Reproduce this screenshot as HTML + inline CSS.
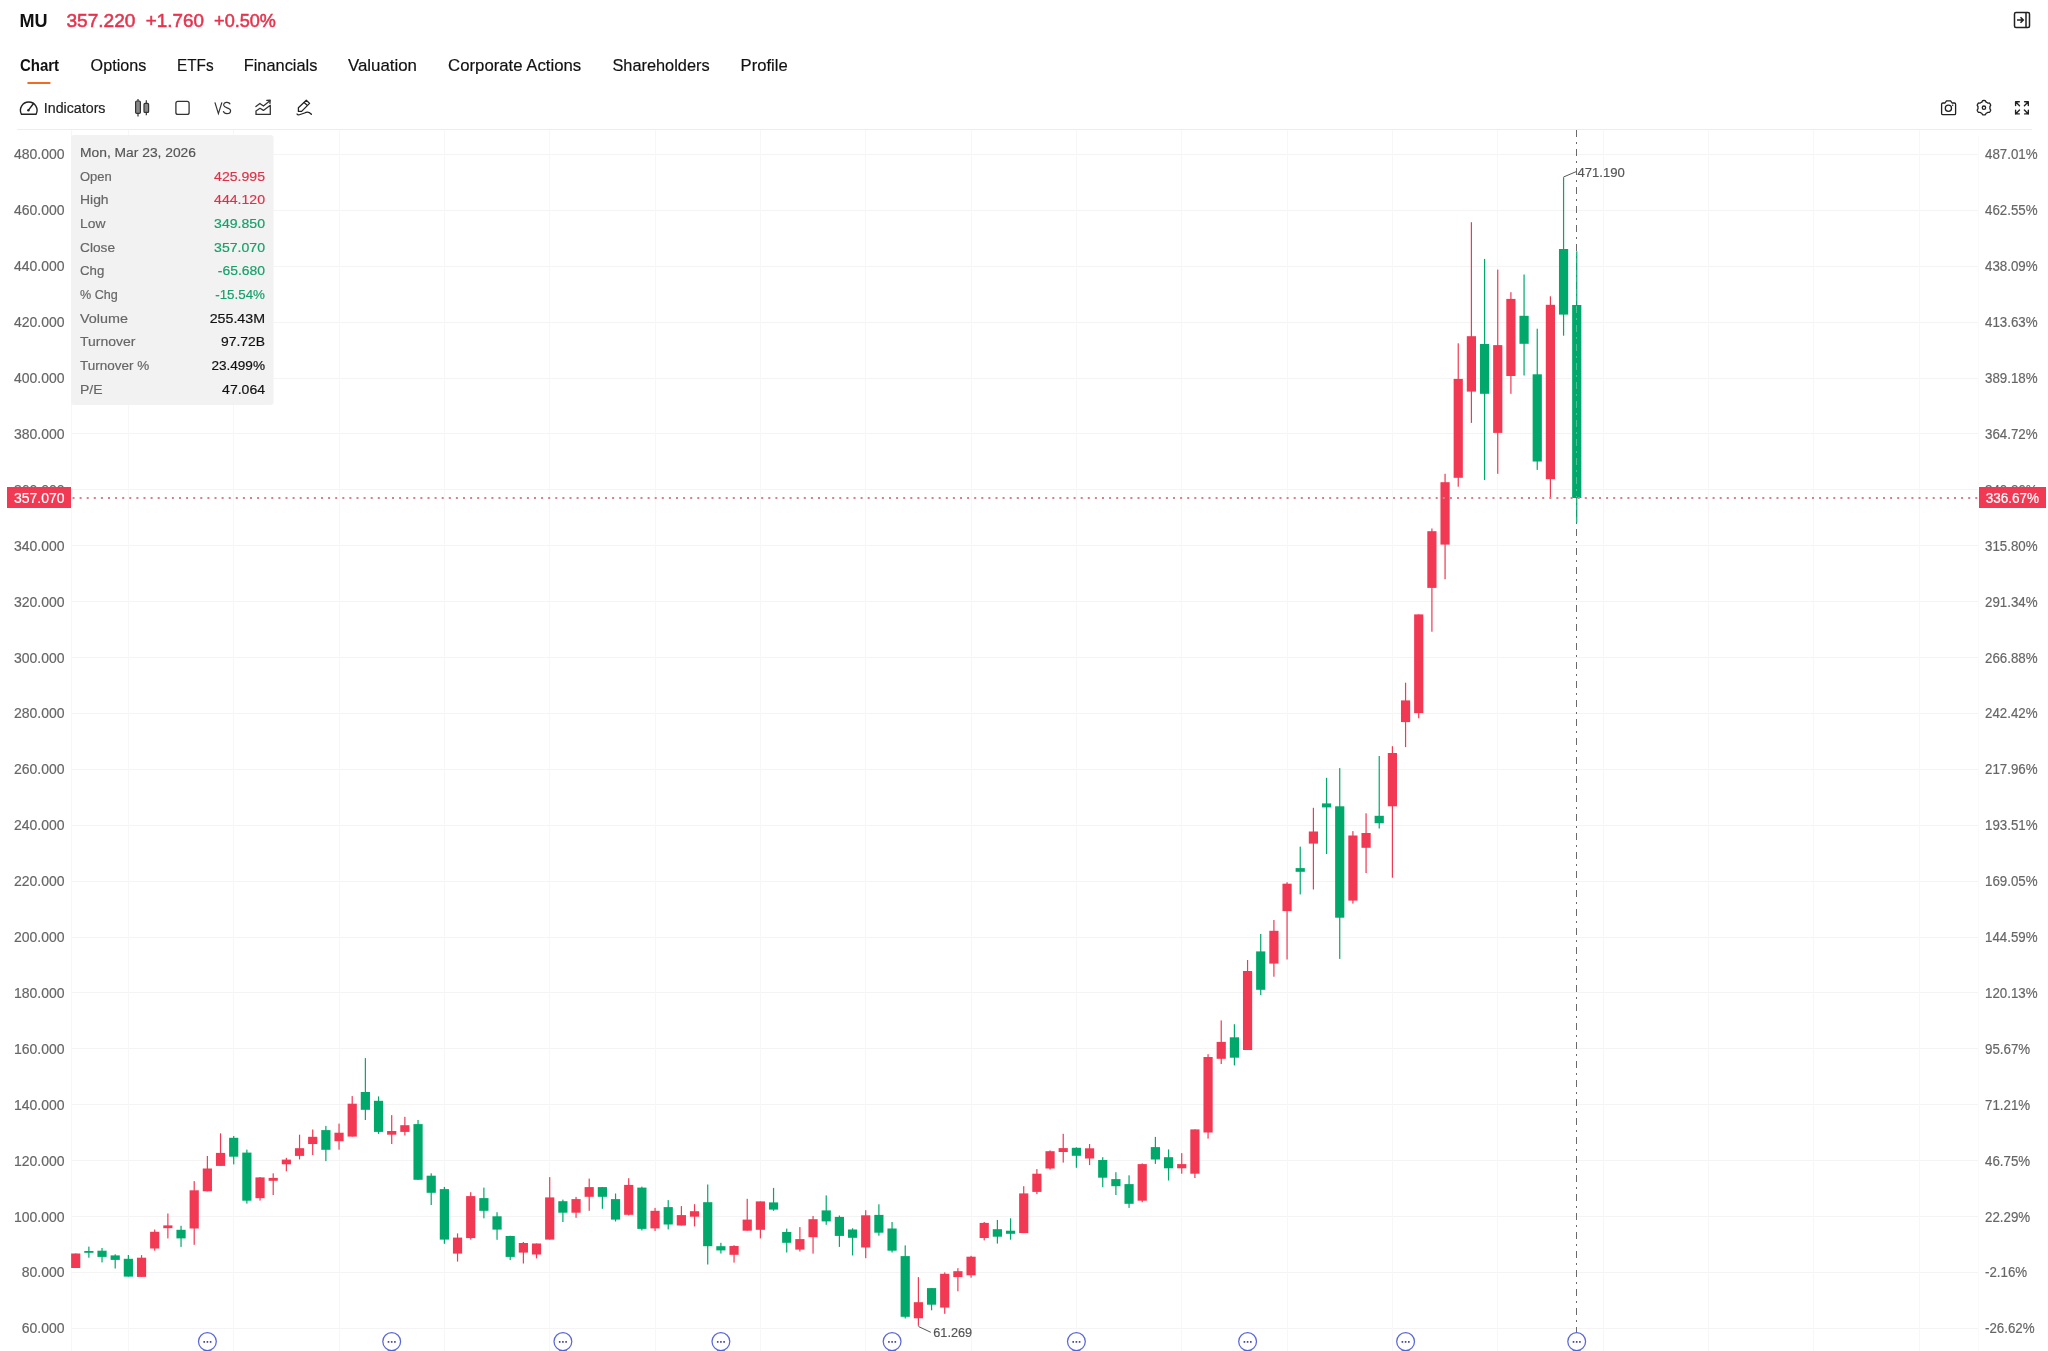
<!DOCTYPE html>
<html><head><meta charset="utf-8"><title>MU Chart</title>
<style>
html,body{margin:0;padding:0;background:#fff;}
body{width:2048px;height:1351px;overflow:hidden;position:relative;font-family:"Liberation Sans",sans-serif;}
svg{position:absolute;left:0;top:0;will-change:transform;}
text{font-family:"Liberation Sans",sans-serif;}
</style></head>
<body>
<svg width="2048" height="1351" viewBox="0 0 2048 1351">
<text x="19.5" y="27" font-size="19" fill="#111" font-weight="bold" textLength="28.1" lengthAdjust="spacingAndGlyphs" >MU</text>
<text x="66.4" y="27" font-size="19" fill="#e5344e" textLength="69.1" lengthAdjust="spacingAndGlyphs" stroke="#e5344e" stroke-width="0.55">357.220</text>
<text x="145.8" y="27" font-size="19" fill="#e5344e" textLength="58.1" lengthAdjust="spacingAndGlyphs" stroke="#e5344e" stroke-width="0.55">+1.760</text>
<text x="214.1" y="27" font-size="19" fill="#e5344e" textLength="61.8" lengthAdjust="spacingAndGlyphs" stroke="#e5344e" stroke-width="0.55">+0.50%</text>
<g fill="none" stroke="#222" stroke-width="1.5"><rect x="2014.5" y="12.5" width="15" height="15" rx="1.5"/><line x1="2026" y1="12.5" x2="2026" y2="27.5"/><path d="M2017 20h6.5M2020.5 17.2l2.8 2.8-2.8 2.8"/></g>
<text x="19.9" y="70.9" font-size="17" fill="#111" font-weight="bold" textLength="39.2" lengthAdjust="spacingAndGlyphs" >Chart</text>
<text x="90.6" y="70.9" font-size="17" fill="#111" stroke="#111" stroke-width="0.18" textLength="55.7" lengthAdjust="spacingAndGlyphs" >Options</text>
<text x="177" y="70.9" font-size="17" fill="#111" stroke="#111" stroke-width="0.18" textLength="36.6" lengthAdjust="spacingAndGlyphs" >ETFs</text>
<text x="243.7" y="70.9" font-size="17" fill="#111" stroke="#111" stroke-width="0.18" textLength="73.7" lengthAdjust="spacingAndGlyphs" >Financials</text>
<text x="347.9" y="70.9" font-size="17" fill="#111" stroke="#111" stroke-width="0.18" textLength="69.1" lengthAdjust="spacingAndGlyphs" >Valuation</text>
<text x="448.1" y="70.9" font-size="17" fill="#111" stroke="#111" stroke-width="0.18" textLength="133.1" lengthAdjust="spacingAndGlyphs" >Corporate Actions</text>
<text x="612.4" y="70.9" font-size="17" fill="#111" stroke="#111" stroke-width="0.18" textLength="97.2" lengthAdjust="spacingAndGlyphs" >Shareholders</text>
<text x="740.6" y="70.9" font-size="17" fill="#111" stroke="#111" stroke-width="0.18" textLength="47.1" lengthAdjust="spacingAndGlyphs" >Profile</text>
<rect x="27.2" y="82" width="23.5" height="2" rx="1" fill="#ee6d22"/>
<g fill="none" stroke="#222" stroke-width="1.4" stroke-linecap="round"><path d="M21.5 114.3 A8.3 8.3 0 1 1 36 114.3 Z"/><path d="M28.5 110.2 L33.5 103.5"/></g><circle cx="28.4" cy="110.3" r="1.2" fill="#222"/>
<text x="43.8" y="112.8" font-size="14" fill="#222" stroke="#222" stroke-width="0.18" textLength="61.7" lengthAdjust="spacingAndGlyphs" >Indicators</text>
<g stroke="#333" stroke-width="1.2"><line x1="138" y1="99" x2="138" y2="116.4"/><rect x="135.6" y="101" width="4.8" height="12.4" rx="1.2" fill="#888"/><line x1="146.3" y1="100.3" x2="146.3" y2="115.2"/><rect x="144" y="103.4" width="4.6" height="9" rx="1" fill="#888"/></g>
<rect x="175.9" y="101.4" width="13.2" height="13" rx="2" fill="none" stroke="#333" stroke-width="1.3"/>
<path d="M214.9 102.4 L218.4 113.6 L221.9 102.4" fill="none" stroke="#333" stroke-width="1.2"/>
<path d="M230.2 104.3 C229.5 102.6 227.9 102.2 226.6 102.3 C224.8 102.4 223.5 103.6 223.7 105.3 C224.1 108.4 230.6 107.3 230.6 110.8 C230.6 112.7 228.8 113.7 226.9 113.7 C225.2 113.7 223.8 112.9 223.3 111.2" fill="none" stroke="#333" stroke-width="1.2"/>
<g fill="none" stroke="#333" stroke-width="1.3" stroke-linejoin="round" stroke-linecap="round"><path d="M255.9 106.6 L259.9 103.5 L263.4 106 L269.6 101"/><path d="M266.8 100.4 L270.2 100.1 L269.9 103.4"/><path d="M256 111 L260 108.3 L263.4 110.4 L270.3 105.3 L270.3 114.4 L256 114.4 Z"/></g>
<g fill="none" stroke="#222" stroke-width="1.3" stroke-linejoin="round" stroke-linecap="round"><path d="M298.4 107.7 L306.3 100.3 L309.6 103.4 L301.6 111.4 L298.4 111.4 Z"/><path d="M304.1 102.6 L307.2 105.2"/><path d="M297 114 Q297.8 115.4 300.2 114.5 L304.6 113 Q308 110.6 311.4 114.3"/></g>
<g fill="none" stroke="#222" stroke-width="1.3" stroke-linejoin="round"><path d="M1941.6 104.3 Q1941.6 103 1943 103 L1945 103 L1946.5 100.8 L1950.6 100.8 L1952.1 103 L1954.4 103 Q1955.6 103 1955.6 104.3 L1955.6 113.4 Q1955.6 114.6 1954.4 114.6 L1943 114.6 Q1941.6 114.6 1941.6 113.4 Z"/><circle cx="1948.4" cy="108.2" r="3.1"/></g><circle cx="1952.7" cy="105.2" r="0.7" fill="#222"/>
<polygon points="1989.93,107.70 1989.92,108.09 1989.89,108.48 1989.92,108.89 1990.33,109.41 1990.68,109.99 1990.61,110.46 1990.42,110.89 1990.20,111.31 1989.95,111.71 1989.67,112.09 1989.29,112.39 1988.62,112.37 1987.97,112.28 1987.60,112.46 1987.27,112.67 1986.94,112.88 1986.60,113.06 1986.24,113.24 1985.91,113.47 1985.66,114.08 1985.34,114.67 1984.89,114.84 1984.42,114.90 1983.95,114.92 1983.48,114.90 1983.01,114.84 1982.56,114.67 1982.24,114.08 1981.99,113.47 1981.66,113.24 1981.30,113.06 1980.96,112.88 1980.63,112.67 1980.30,112.46 1979.93,112.28 1979.28,112.37 1978.61,112.39 1978.23,112.09 1977.95,111.71 1977.70,111.31 1977.48,110.89 1977.29,110.46 1977.22,109.99 1977.57,109.41 1977.98,108.89 1978.01,108.48 1977.98,108.09 1977.97,107.70 1977.98,107.31 1978.01,106.92 1977.98,106.51 1977.57,105.99 1977.22,105.41 1977.29,104.94 1977.48,104.51 1977.70,104.09 1977.95,103.69 1978.23,103.31 1978.61,103.01 1979.28,103.03 1979.93,103.12 1980.30,102.94 1980.63,102.73 1980.96,102.52 1981.30,102.34 1981.66,102.16 1981.99,101.93 1982.24,101.32 1982.56,100.73 1983.01,100.56 1983.48,100.50 1983.95,100.48 1984.42,100.50 1984.89,100.56 1985.34,100.73 1985.66,101.32 1985.91,101.93 1986.24,102.16 1986.60,102.34 1986.94,102.52 1987.27,102.73 1987.60,102.94 1987.97,103.12 1988.62,103.03 1989.29,103.01 1989.67,103.31 1989.95,103.69 1990.20,104.09 1990.42,104.51 1990.61,104.94 1990.68,105.41 1990.33,105.99 1989.92,106.51 1989.89,106.92 1989.92,107.31" fill="none" stroke="#222" stroke-width="1.3" stroke-linejoin="round"/>
<circle cx="1983.95" cy="107.7" r="1.7" fill="none" stroke="#222" stroke-width="1.3"/>
<g fill="none" stroke="#222" stroke-width="1.4" stroke-linecap="round" stroke-linejoin="round"><path d="M2015.6 105.5 L2015.6 101.8 L2019.3 101.8 M2015.6 101.8 L2019.5 105.7"/><path d="M2024.6 101.8 L2028.3 101.8 L2028.3 105.5 M2028.3 101.8 L2024.4 105.7"/><path d="M2015.6 110.2 L2015.6 113.9 L2019.3 113.9 M2015.6 113.9 L2019.5 110"/><path d="M2024.6 113.9 L2028.3 113.9 L2028.3 110.2 M2028.3 113.9 L2024.4 110"/></g>
<rect x="17" y="129" width="2015" height="1" fill="#ededed"/>
<rect x="71" y="1328" width="1908" height="1" fill="#f4f4f4"/>
<rect x="71" y="1272" width="1908" height="1" fill="#f4f4f4"/>
<rect x="71" y="1216" width="1908" height="1" fill="#f4f4f4"/>
<rect x="71" y="1160" width="1908" height="1" fill="#f4f4f4"/>
<rect x="71" y="1104" width="1908" height="1" fill="#f4f4f4"/>
<rect x="71" y="1048" width="1908" height="1" fill="#f4f4f4"/>
<rect x="71" y="992" width="1908" height="1" fill="#f4f4f4"/>
<rect x="71" y="937" width="1908" height="1" fill="#f4f4f4"/>
<rect x="71" y="881" width="1908" height="1" fill="#f4f4f4"/>
<rect x="71" y="825" width="1908" height="1" fill="#f4f4f4"/>
<rect x="71" y="769" width="1908" height="1" fill="#f4f4f4"/>
<rect x="71" y="713" width="1908" height="1" fill="#f4f4f4"/>
<rect x="71" y="657" width="1908" height="1" fill="#f4f4f4"/>
<rect x="71" y="601" width="1908" height="1" fill="#f4f4f4"/>
<rect x="71" y="545" width="1908" height="1" fill="#f4f4f4"/>
<rect x="71" y="489" width="1908" height="1" fill="#f4f4f4"/>
<rect x="71" y="433" width="1908" height="1" fill="#f4f4f4"/>
<rect x="71" y="378" width="1908" height="1" fill="#f4f4f4"/>
<rect x="71" y="322" width="1908" height="1" fill="#f4f4f4"/>
<rect x="71" y="266" width="1908" height="1" fill="#f4f4f4"/>
<rect x="71" y="210" width="1908" height="1" fill="#f4f4f4"/>
<rect x="71" y="154" width="1908" height="1" fill="#f4f4f4"/>
<rect x="128" y="130" width="1" height="1221" fill="#f7f7f7"/>
<rect x="233" y="130" width="1" height="1221" fill="#f7f7f7"/>
<rect x="339" y="130" width="1" height="1221" fill="#f7f7f7"/>
<rect x="444" y="130" width="1" height="1221" fill="#f7f7f7"/>
<rect x="549" y="130" width="1" height="1221" fill="#f7f7f7"/>
<rect x="655" y="130" width="1" height="1221" fill="#f7f7f7"/>
<rect x="760" y="130" width="1" height="1221" fill="#f7f7f7"/>
<rect x="865" y="130" width="1" height="1221" fill="#f7f7f7"/>
<rect x="971" y="130" width="1" height="1221" fill="#f7f7f7"/>
<rect x="1076" y="130" width="1" height="1221" fill="#f7f7f7"/>
<rect x="1181" y="130" width="1" height="1221" fill="#f7f7f7"/>
<rect x="1287" y="130" width="1" height="1221" fill="#f7f7f7"/>
<rect x="1392" y="130" width="1" height="1221" fill="#f7f7f7"/>
<rect x="1497" y="130" width="1" height="1221" fill="#f7f7f7"/>
<rect x="1603" y="130" width="1" height="1221" fill="#f7f7f7"/>
<rect x="1708" y="130" width="1" height="1221" fill="#f7f7f7"/>
<rect x="1813" y="130" width="1" height="1221" fill="#f7f7f7"/>
<rect x="1919" y="130" width="1" height="1221" fill="#f7f7f7"/>
<rect x="71" y="130" width="1" height="1221" fill="#f7f7f7"/>
<rect x="1978" y="136" width="1" height="1215" fill="#fafafa"/>
<rect x="71" y="135" width="202.5" height="270" rx="3" fill="#f2f2f2"/>
<text x="80" y="156.8" font-size="13.7" fill="#555" stroke="#555" stroke-width="0.18" textLength="116" lengthAdjust="spacingAndGlyphs" >Mon, Mar 23, 2026</text>
<text x="80" y="180.5" font-size="13.7" fill="#666" stroke="#666" stroke-width="0.18" textLength="31.8" lengthAdjust="spacingAndGlyphs" >Open</text>
<text x="214.1" y="180.5" font-size="13.7" fill="#dd3149" stroke="#dd3149" stroke-width="0.18" textLength="50.9" lengthAdjust="spacingAndGlyphs" >425.995</text>
<text x="80" y="204.2" font-size="13.7" fill="#666" stroke="#666" stroke-width="0.18" textLength="28.6" lengthAdjust="spacingAndGlyphs" >High</text>
<text x="214.1" y="204.2" font-size="13.7" fill="#dd3149" stroke="#dd3149" stroke-width="0.18" textLength="50.9" lengthAdjust="spacingAndGlyphs" >444.120</text>
<text x="80" y="227.9" font-size="13.7" fill="#666" stroke="#666" stroke-width="0.18" textLength="25.4" lengthAdjust="spacingAndGlyphs" >Low</text>
<text x="214.1" y="227.9" font-size="13.7" fill="#17a06c" stroke="#17a06c" stroke-width="0.18" textLength="50.9" lengthAdjust="spacingAndGlyphs" >349.850</text>
<text x="80" y="251.6" font-size="13.7" fill="#666" stroke="#666" stroke-width="0.18" textLength="35" lengthAdjust="spacingAndGlyphs" >Close</text>
<text x="214.1" y="251.6" font-size="13.7" fill="#17a06c" stroke="#17a06c" stroke-width="0.18" textLength="50.9" lengthAdjust="spacingAndGlyphs" >357.070</text>
<text x="80" y="275.3" font-size="13.7" fill="#666" stroke="#666" stroke-width="0.18" textLength="24.3" lengthAdjust="spacingAndGlyphs" >Chg</text>
<text x="217.8" y="275.3" font-size="13.7" fill="#17a06c" stroke="#17a06c" stroke-width="0.18" textLength="47.2" lengthAdjust="spacingAndGlyphs" >-65.680</text>
<text x="80" y="299.0" font-size="13.7" fill="#666" stroke="#666" stroke-width="0.18" textLength="37.8" lengthAdjust="spacingAndGlyphs" >% Chg</text>
<text x="215.2" y="299.0" font-size="13.7" fill="#17a06c" stroke="#17a06c" stroke-width="0.18" textLength="49.8" lengthAdjust="spacingAndGlyphs" >-15.54%</text>
<text x="80" y="322.7" font-size="13.7" fill="#666" stroke="#666" stroke-width="0.18" textLength="47.9" lengthAdjust="spacingAndGlyphs" >Volume</text>
<text x="209.7" y="322.7" font-size="13.7" fill="#111" stroke="#111" stroke-width="0.18" textLength="55.3" lengthAdjust="spacingAndGlyphs" >255.43M</text>
<text x="80" y="346.4" font-size="13.7" fill="#666" stroke="#666" stroke-width="0.18" textLength="55.4" lengthAdjust="spacingAndGlyphs" >Turnover</text>
<text x="221" y="346.4" font-size="13.7" fill="#111" stroke="#111" stroke-width="0.18" textLength="44" lengthAdjust="spacingAndGlyphs" >97.72B</text>
<text x="80" y="370.1" font-size="13.7" fill="#666" stroke="#666" stroke-width="0.18" textLength="69.3" lengthAdjust="spacingAndGlyphs" >Turnover %</text>
<text x="211.4" y="370.1" font-size="13.7" fill="#111" stroke="#111" stroke-width="0.18" textLength="53.6" lengthAdjust="spacingAndGlyphs" >23.499%</text>
<text x="80" y="393.8" font-size="13.7" fill="#666" stroke="#666" stroke-width="0.18" textLength="22.6" lengthAdjust="spacingAndGlyphs" >P/E</text>
<text x="222.1" y="393.8" font-size="13.7" fill="#111" stroke="#111" stroke-width="0.18" textLength="42.9" lengthAdjust="spacingAndGlyphs" >47.064</text>
<line x1="1576.5" y1="130" x2="1576.5" y2="1351" stroke="#6a6a6a" stroke-width="1" stroke-dasharray="7 5 2 5"/>
<rect x="75.10" y="1253.5" width="1.2" height="14.5" fill="#f23954"/>
<rect x="71.10" y="1253.5" width="9.2" height="14.5" fill="#f23954"/>
<rect x="88.27" y="1246.6" width="1.2" height="11.1" fill="#00a86b"/>
<rect x="84.27" y="1251.0" width="9.2" height="1.8" fill="#00a86b"/>
<rect x="101.43" y="1248.0" width="1.2" height="14.4" fill="#00a86b"/>
<rect x="97.43" y="1250.7" width="9.2" height="6.2" fill="#00a86b"/>
<rect x="114.60" y="1254.3" width="1.2" height="14.2" fill="#00a86b"/>
<rect x="110.60" y="1255.4" width="9.2" height="4.5" fill="#00a86b"/>
<rect x="127.77" y="1255.0" width="1.2" height="21.6" fill="#00a86b"/>
<rect x="123.77" y="1258.8" width="9.2" height="17.8" fill="#00a86b"/>
<rect x="140.94" y="1255.1" width="1.2" height="21.8" fill="#f23954"/>
<rect x="136.94" y="1257.7" width="9.2" height="19.2" fill="#f23954"/>
<rect x="154.10" y="1229.5" width="1.2" height="21.2" fill="#f23954"/>
<rect x="150.10" y="1231.8" width="9.2" height="16.7" fill="#f23954"/>
<rect x="167.27" y="1213.5" width="1.2" height="24.9" fill="#f23954"/>
<rect x="163.27" y="1225.4" width="9.2" height="2.8" fill="#f23954"/>
<rect x="180.44" y="1225.8" width="1.2" height="21.1" fill="#00a86b"/>
<rect x="176.44" y="1229.8" width="9.2" height="8.6" fill="#00a86b"/>
<rect x="193.60" y="1181.1" width="1.2" height="63.7" fill="#f23954"/>
<rect x="189.60" y="1190.3" width="9.2" height="38.2" fill="#f23954"/>
<rect x="206.77" y="1156.0" width="1.2" height="35.3" fill="#f23954"/>
<rect x="202.77" y="1168.5" width="9.2" height="22.8" fill="#f23954"/>
<rect x="219.94" y="1133.3" width="1.2" height="32.6" fill="#f23954"/>
<rect x="215.94" y="1152.9" width="9.2" height="13.0" fill="#f23954"/>
<rect x="233.10" y="1136.0" width="1.2" height="28.4" fill="#00a86b"/>
<rect x="229.10" y="1137.8" width="9.2" height="18.9" fill="#00a86b"/>
<rect x="246.27" y="1149.6" width="1.2" height="54.0" fill="#00a86b"/>
<rect x="242.27" y="1152.6" width="9.2" height="48.1" fill="#00a86b"/>
<rect x="259.44" y="1177.0" width="1.2" height="23.6" fill="#f23954"/>
<rect x="255.44" y="1177.4" width="9.2" height="20.8" fill="#f23954"/>
<rect x="272.60" y="1173.3" width="1.2" height="21.7" fill="#f23954"/>
<rect x="268.60" y="1177.9" width="9.2" height="2.9" fill="#f23954"/>
<rect x="285.77" y="1157.8" width="1.2" height="13.5" fill="#f23954"/>
<rect x="281.77" y="1159.6" width="9.2" height="4.7" fill="#f23954"/>
<rect x="298.94" y="1134.7" width="1.2" height="24.7" fill="#f23954"/>
<rect x="294.94" y="1148.2" width="9.2" height="7.7" fill="#f23954"/>
<rect x="312.11" y="1129.5" width="1.2" height="25.5" fill="#f23954"/>
<rect x="308.11" y="1136.8" width="9.2" height="7.2" fill="#f23954"/>
<rect x="325.27" y="1125.9" width="1.2" height="35.2" fill="#00a86b"/>
<rect x="321.27" y="1130.1" width="9.2" height="19.7" fill="#00a86b"/>
<rect x="338.44" y="1123.6" width="1.2" height="26.1" fill="#f23954"/>
<rect x="334.44" y="1132.7" width="9.2" height="8.5" fill="#f23954"/>
<rect x="351.61" y="1096.1" width="1.2" height="40.5" fill="#f23954"/>
<rect x="347.61" y="1103.7" width="9.2" height="32.9" fill="#f23954"/>
<rect x="364.77" y="1058.1" width="1.2" height="61.9" fill="#00a86b"/>
<rect x="360.77" y="1092.0" width="9.2" height="17.8" fill="#00a86b"/>
<rect x="377.94" y="1096.4" width="1.2" height="37.5" fill="#00a86b"/>
<rect x="373.94" y="1100.8" width="9.2" height="31.1" fill="#00a86b"/>
<rect x="391.11" y="1115.1" width="1.2" height="28.9" fill="#f23954"/>
<rect x="387.11" y="1131.0" width="9.2" height="3.7" fill="#f23954"/>
<rect x="404.27" y="1116.8" width="1.2" height="18.7" fill="#f23954"/>
<rect x="400.27" y="1125.2" width="9.2" height="6.7" fill="#f23954"/>
<rect x="417.44" y="1120.0" width="1.2" height="59.8" fill="#00a86b"/>
<rect x="413.44" y="1124.1" width="9.2" height="55.7" fill="#00a86b"/>
<rect x="430.61" y="1173.3" width="1.2" height="31.7" fill="#00a86b"/>
<rect x="426.61" y="1175.7" width="9.2" height="17.1" fill="#00a86b"/>
<rect x="443.78" y="1186.9" width="1.2" height="56.9" fill="#00a86b"/>
<rect x="439.78" y="1189.1" width="9.2" height="50.5" fill="#00a86b"/>
<rect x="456.94" y="1233.4" width="1.2" height="28.2" fill="#f23954"/>
<rect x="452.94" y="1237.6" width="9.2" height="16.0" fill="#f23954"/>
<rect x="470.11" y="1192.2" width="1.2" height="47.4" fill="#f23954"/>
<rect x="466.11" y="1196.1" width="9.2" height="42.0" fill="#f23954"/>
<rect x="483.28" y="1187.6" width="1.2" height="30.7" fill="#00a86b"/>
<rect x="479.28" y="1198.1" width="9.2" height="12.7" fill="#00a86b"/>
<rect x="496.44" y="1212.2" width="1.2" height="27.6" fill="#00a86b"/>
<rect x="492.44" y="1216.3" width="9.2" height="13.3" fill="#00a86b"/>
<rect x="509.61" y="1235.7" width="1.2" height="24.4" fill="#00a86b"/>
<rect x="505.61" y="1236.0" width="9.2" height="20.9" fill="#00a86b"/>
<rect x="522.78" y="1242.0" width="1.2" height="21.5" fill="#f23954"/>
<rect x="518.78" y="1243.0" width="9.2" height="9.6" fill="#f23954"/>
<rect x="535.94" y="1243.5" width="1.2" height="14.9" fill="#f23954"/>
<rect x="531.94" y="1243.5" width="9.2" height="11.0" fill="#f23954"/>
<rect x="549.11" y="1177.1" width="1.2" height="62.5" fill="#f23954"/>
<rect x="545.11" y="1197.4" width="9.2" height="42.2" fill="#f23954"/>
<rect x="562.28" y="1199.6" width="1.2" height="22.4" fill="#00a86b"/>
<rect x="558.28" y="1201.2" width="9.2" height="11.5" fill="#00a86b"/>
<rect x="575.45" y="1196.9" width="1.2" height="20.9" fill="#f23954"/>
<rect x="571.45" y="1199.1" width="9.2" height="13.6" fill="#f23954"/>
<rect x="588.61" y="1178.6" width="1.2" height="32.2" fill="#f23954"/>
<rect x="584.61" y="1187.1" width="9.2" height="9.7" fill="#f23954"/>
<rect x="601.78" y="1187.1" width="1.2" height="21.7" fill="#00a86b"/>
<rect x="597.78" y="1187.1" width="9.2" height="9.7" fill="#00a86b"/>
<rect x="614.95" y="1193.5" width="1.2" height="28.0" fill="#00a86b"/>
<rect x="610.95" y="1199.1" width="9.2" height="20.5" fill="#00a86b"/>
<rect x="628.11" y="1178.2" width="1.2" height="37.3" fill="#f23954"/>
<rect x="624.11" y="1184.9" width="9.2" height="29.9" fill="#f23954"/>
<rect x="641.28" y="1186.6" width="1.2" height="43.9" fill="#00a86b"/>
<rect x="637.28" y="1187.6" width="9.2" height="41.3" fill="#00a86b"/>
<rect x="654.45" y="1207.9" width="1.2" height="23.1" fill="#f23954"/>
<rect x="650.45" y="1210.8" width="9.2" height="17.6" fill="#f23954"/>
<rect x="667.62" y="1200.1" width="1.2" height="29.3" fill="#00a86b"/>
<rect x="663.62" y="1207.1" width="9.2" height="17.4" fill="#00a86b"/>
<rect x="680.78" y="1206.1" width="1.2" height="19.4" fill="#f23954"/>
<rect x="676.78" y="1215.1" width="9.2" height="10.4" fill="#f23954"/>
<rect x="693.95" y="1204.2" width="1.2" height="22.2" fill="#f23954"/>
<rect x="689.95" y="1211.2" width="9.2" height="5.5" fill="#f23954"/>
<rect x="707.12" y="1184.5" width="1.2" height="80.0" fill="#00a86b"/>
<rect x="703.12" y="1202.2" width="9.2" height="44.0" fill="#00a86b"/>
<rect x="720.28" y="1242.8" width="1.2" height="10.7" fill="#00a86b"/>
<rect x="716.28" y="1246.2" width="9.2" height="4.2" fill="#00a86b"/>
<rect x="733.45" y="1245.2" width="1.2" height="17.4" fill="#f23954"/>
<rect x="729.45" y="1246.0" width="9.2" height="8.8" fill="#f23954"/>
<rect x="746.62" y="1198.8" width="1.2" height="31.9" fill="#f23954"/>
<rect x="742.62" y="1219.6" width="9.2" height="11.1" fill="#f23954"/>
<rect x="759.78" y="1201.4" width="1.2" height="37.0" fill="#f23954"/>
<rect x="755.78" y="1201.4" width="9.2" height="28.4" fill="#f23954"/>
<rect x="772.95" y="1187.9" width="1.2" height="22.9" fill="#00a86b"/>
<rect x="768.95" y="1202.4" width="9.2" height="7.2" fill="#00a86b"/>
<rect x="786.12" y="1228.6" width="1.2" height="23.9" fill="#00a86b"/>
<rect x="782.12" y="1232.0" width="9.2" height="10.8" fill="#00a86b"/>
<rect x="799.28" y="1227.1" width="1.2" height="24.4" fill="#f23954"/>
<rect x="795.28" y="1239.1" width="9.2" height="10.5" fill="#f23954"/>
<rect x="812.45" y="1216.0" width="1.2" height="37.6" fill="#f23954"/>
<rect x="808.45" y="1219.2" width="9.2" height="18.0" fill="#f23954"/>
<rect x="825.62" y="1195.4" width="1.2" height="29.4" fill="#00a86b"/>
<rect x="821.62" y="1210.4" width="9.2" height="11.0" fill="#00a86b"/>
<rect x="838.79" y="1215.5" width="1.2" height="31.4" fill="#00a86b"/>
<rect x="834.79" y="1216.9" width="9.2" height="19.0" fill="#00a86b"/>
<rect x="851.95" y="1228.3" width="1.2" height="27.1" fill="#00a86b"/>
<rect x="847.95" y="1229.5" width="9.2" height="8.3" fill="#00a86b"/>
<rect x="865.12" y="1210.2" width="1.2" height="48.0" fill="#f23954"/>
<rect x="861.12" y="1215.3" width="9.2" height="32.2" fill="#f23954"/>
<rect x="878.29" y="1204.3" width="1.2" height="31.4" fill="#00a86b"/>
<rect x="874.29" y="1214.9" width="9.2" height="17.8" fill="#00a86b"/>
<rect x="891.45" y="1222.0" width="1.2" height="30.5" fill="#00a86b"/>
<rect x="887.45" y="1228.5" width="9.2" height="22.2" fill="#00a86b"/>
<rect x="904.62" y="1245.4" width="1.2" height="73.1" fill="#00a86b"/>
<rect x="900.62" y="1256.1" width="9.2" height="60.7" fill="#00a86b"/>
<rect x="917.79" y="1277.1" width="1.2" height="48.7" fill="#f23954"/>
<rect x="913.79" y="1302.2" width="9.2" height="16.1" fill="#f23954"/>
<rect x="930.96" y="1288.1" width="1.2" height="22.2" fill="#00a86b"/>
<rect x="926.96" y="1288.1" width="9.2" height="16.6" fill="#00a86b"/>
<rect x="944.12" y="1272.4" width="1.2" height="41.4" fill="#f23954"/>
<rect x="940.12" y="1273.8" width="9.2" height="33.8" fill="#f23954"/>
<rect x="957.29" y="1268.2" width="1.2" height="23.1" fill="#f23954"/>
<rect x="953.29" y="1271.2" width="9.2" height="5.9" fill="#f23954"/>
<rect x="970.46" y="1255.8" width="1.2" height="21.9" fill="#f23954"/>
<rect x="966.46" y="1256.7" width="9.2" height="18.6" fill="#f23954"/>
<rect x="983.62" y="1222.0" width="1.2" height="18.4" fill="#f23954"/>
<rect x="979.62" y="1222.9" width="9.2" height="15.1" fill="#f23954"/>
<rect x="996.79" y="1219.9" width="1.2" height="23.7" fill="#00a86b"/>
<rect x="992.79" y="1229.2" width="9.2" height="7.5" fill="#00a86b"/>
<rect x="1009.96" y="1218.3" width="1.2" height="21.4" fill="#00a86b"/>
<rect x="1005.96" y="1230.7" width="9.2" height="3.1" fill="#00a86b"/>
<rect x="1023.12" y="1186.2" width="1.2" height="46.9" fill="#f23954"/>
<rect x="1019.12" y="1193.4" width="9.2" height="39.7" fill="#f23954"/>
<rect x="1036.29" y="1169.1" width="1.2" height="25.0" fill="#f23954"/>
<rect x="1032.29" y="1173.7" width="9.2" height="18.2" fill="#f23954"/>
<rect x="1049.46" y="1150.4" width="1.2" height="19.2" fill="#f23954"/>
<rect x="1045.46" y="1151.2" width="9.2" height="17.3" fill="#f23954"/>
<rect x="1062.62" y="1133.8" width="1.2" height="28.8" fill="#f23954"/>
<rect x="1058.62" y="1148.1" width="9.2" height="3.9" fill="#f23954"/>
<rect x="1075.79" y="1147.3" width="1.2" height="20.5" fill="#00a86b"/>
<rect x="1071.79" y="1147.8" width="9.2" height="8.0" fill="#00a86b"/>
<rect x="1088.96" y="1144.0" width="1.2" height="21.1" fill="#f23954"/>
<rect x="1084.96" y="1148.3" width="9.2" height="10.2" fill="#f23954"/>
<rect x="1102.13" y="1157.2" width="1.2" height="30.0" fill="#00a86b"/>
<rect x="1098.13" y="1160.0" width="9.2" height="17.7" fill="#00a86b"/>
<rect x="1115.29" y="1172.2" width="1.2" height="22.8" fill="#00a86b"/>
<rect x="1111.29" y="1179.1" width="9.2" height="7.1" fill="#00a86b"/>
<rect x="1128.46" y="1175.3" width="1.2" height="32.6" fill="#00a86b"/>
<rect x="1124.46" y="1184.1" width="9.2" height="19.7" fill="#00a86b"/>
<rect x="1141.63" y="1163.4" width="1.2" height="38.8" fill="#f23954"/>
<rect x="1137.63" y="1164.1" width="9.2" height="36.6" fill="#f23954"/>
<rect x="1154.79" y="1136.9" width="1.2" height="27.0" fill="#00a86b"/>
<rect x="1150.79" y="1147.1" width="9.2" height="12.4" fill="#00a86b"/>
<rect x="1167.96" y="1149.4" width="1.2" height="31.1" fill="#00a86b"/>
<rect x="1163.96" y="1157.2" width="9.2" height="11.1" fill="#00a86b"/>
<rect x="1181.13" y="1153.1" width="1.2" height="20.6" fill="#f23954"/>
<rect x="1177.13" y="1164.1" width="9.2" height="4.2" fill="#f23954"/>
<rect x="1194.30" y="1129.4" width="1.2" height="48.6" fill="#f23954"/>
<rect x="1190.30" y="1129.4" width="9.2" height="44.3" fill="#f23954"/>
<rect x="1207.46" y="1054.2" width="1.2" height="84.4" fill="#f23954"/>
<rect x="1203.46" y="1057.0" width="9.2" height="75.5" fill="#f23954"/>
<rect x="1220.63" y="1020.4" width="1.2" height="43.6" fill="#f23954"/>
<rect x="1216.63" y="1041.9" width="9.2" height="16.9" fill="#f23954"/>
<rect x="1233.80" y="1024.2" width="1.2" height="41.2" fill="#00a86b"/>
<rect x="1229.80" y="1037.3" width="9.2" height="20.4" fill="#00a86b"/>
<rect x="1246.96" y="960.0" width="1.2" height="90.0" fill="#f23954"/>
<rect x="1242.96" y="971.0" width="9.2" height="79.0" fill="#f23954"/>
<rect x="1260.13" y="934.0" width="1.2" height="61.0" fill="#00a86b"/>
<rect x="1256.13" y="951.4" width="9.2" height="38.4" fill="#00a86b"/>
<rect x="1273.30" y="920.0" width="1.2" height="56.7" fill="#f23954"/>
<rect x="1269.30" y="930.8" width="9.2" height="32.8" fill="#f23954"/>
<rect x="1286.46" y="882.2" width="1.2" height="77.3" fill="#f23954"/>
<rect x="1282.46" y="883.7" width="9.2" height="27.4" fill="#f23954"/>
<rect x="1299.63" y="846.6" width="1.2" height="47.8" fill="#00a86b"/>
<rect x="1295.63" y="868.1" width="9.2" height="3.7" fill="#00a86b"/>
<rect x="1312.80" y="807.8" width="1.2" height="81.7" fill="#f23954"/>
<rect x="1308.80" y="831.5" width="9.2" height="12.1" fill="#f23954"/>
<rect x="1325.97" y="777.8" width="1.2" height="76.2" fill="#00a86b"/>
<rect x="1321.97" y="803.4" width="9.2" height="4.0" fill="#00a86b"/>
<rect x="1339.13" y="768.1" width="1.2" height="190.8" fill="#00a86b"/>
<rect x="1335.13" y="806.3" width="9.2" height="111.4" fill="#00a86b"/>
<rect x="1352.30" y="831.1" width="1.2" height="72.5" fill="#f23954"/>
<rect x="1348.30" y="835.5" width="9.2" height="65.1" fill="#f23954"/>
<rect x="1365.47" y="813.3" width="1.2" height="59.7" fill="#f23954"/>
<rect x="1361.47" y="833.0" width="9.2" height="14.8" fill="#f23954"/>
<rect x="1378.63" y="756.0" width="1.2" height="72.5" fill="#00a86b"/>
<rect x="1374.63" y="815.8" width="9.2" height="7.4" fill="#00a86b"/>
<rect x="1391.80" y="746.2" width="1.2" height="131.5" fill="#f23954"/>
<rect x="1387.80" y="753.0" width="9.2" height="53.3" fill="#f23954"/>
<rect x="1404.97" y="682.7" width="1.2" height="64.4" fill="#f23954"/>
<rect x="1400.97" y="700.4" width="9.2" height="21.7" fill="#f23954"/>
<rect x="1418.13" y="614.4" width="1.2" height="103.9" fill="#f23954"/>
<rect x="1414.13" y="614.4" width="9.2" height="98.7" fill="#f23954"/>
<rect x="1431.30" y="528.5" width="1.2" height="103.2" fill="#f23954"/>
<rect x="1427.30" y="531.2" width="9.2" height="56.7" fill="#f23954"/>
<rect x="1444.47" y="473.8" width="1.2" height="105.4" fill="#f23954"/>
<rect x="1440.47" y="482.2" width="9.2" height="62.4" fill="#f23954"/>
<rect x="1457.64" y="343.3" width="1.2" height="143.4" fill="#f23954"/>
<rect x="1453.64" y="378.9" width="9.2" height="98.9" fill="#f23954"/>
<rect x="1470.80" y="222.2" width="1.2" height="200.7" fill="#f23954"/>
<rect x="1466.80" y="336.2" width="9.2" height="55.4" fill="#f23954"/>
<rect x="1483.97" y="258.9" width="1.2" height="221.1" fill="#00a86b"/>
<rect x="1479.97" y="344.0" width="9.2" height="49.8" fill="#00a86b"/>
<rect x="1497.14" y="269.6" width="1.2" height="204.2" fill="#f23954"/>
<rect x="1493.14" y="345.1" width="9.2" height="87.8" fill="#f23954"/>
<rect x="1510.30" y="292.2" width="1.2" height="101.6" fill="#f23954"/>
<rect x="1506.30" y="298.9" width="9.2" height="77.1" fill="#f23954"/>
<rect x="1523.47" y="274.5" width="1.2" height="101.0" fill="#00a86b"/>
<rect x="1519.47" y="315.8" width="9.2" height="28.0" fill="#00a86b"/>
<rect x="1536.64" y="328.7" width="1.2" height="141.2" fill="#00a86b"/>
<rect x="1532.64" y="374.3" width="9.2" height="87.2" fill="#00a86b"/>
<rect x="1549.80" y="296.3" width="1.2" height="201.7" fill="#f23954"/>
<rect x="1545.80" y="304.8" width="9.2" height="174.4" fill="#f23954"/>
<rect x="1562.97" y="177.3" width="1.2" height="158.4" fill="#00a86b"/>
<rect x="1558.97" y="249.0" width="9.2" height="65.6" fill="#00a86b"/>
<rect x="1576.14" y="251.3" width="1.2" height="271.4" fill="#00a86b"/>
<rect x="1572.14" y="305.0" width="9.2" height="193.0" fill="#00a86b"/>
<line x1="1576.5" y1="306" x2="1576.5" y2="497" stroke="#fff" stroke-opacity="0.3" stroke-width="1" stroke-dasharray="7 5 2 5"/>
<line x1="72" y1="498" x2="1978" y2="498" stroke="#d4808d" stroke-width="2" stroke-dasharray="2 5.1" stroke-dashoffset="-0.5"/>
<path d="M1563.5 177 L1576.5 171.5" stroke="#555" stroke-width="1" fill="none"/>
<text x="1577.5" y="176.7" font-size="13.5" fill="#555" stroke="#555" stroke-width="0.18" textLength="47.3" lengthAdjust="spacingAndGlyphs" >471.190</text>
<path d="M918.5 1326.5 L930.8 1332.3" stroke="#555" stroke-width="1" fill="none"/>
<text x="933.3" y="1336.8" font-size="13.5" fill="#555" stroke="#555" stroke-width="0.18" textLength="38.9" lengthAdjust="spacingAndGlyphs" >61.269</text>
<text x="64.5" y="1333.3" font-size="14" fill="#666" stroke="#666" stroke-width="0.18" text-anchor="end" >60.000</text>
<text x="1985" y="1333.3" font-size="14" fill="#666" stroke="#666" stroke-width="0.18" textLength="49.6" lengthAdjust="spacingAndGlyphs" >-26.62%</text>
<text x="64.5" y="1277.4" font-size="14" fill="#666" stroke="#666" stroke-width="0.18" text-anchor="end" >80.000</text>
<text x="1985" y="1277.4" font-size="14" fill="#666" stroke="#666" stroke-width="0.18" textLength="42.2" lengthAdjust="spacingAndGlyphs" >-2.16%</text>
<text x="64.5" y="1221.5" font-size="14" fill="#666" stroke="#666" stroke-width="0.18" text-anchor="end" >100.000</text>
<text x="1985" y="1221.5" font-size="14" fill="#666" stroke="#666" stroke-width="0.18" textLength="45.2" lengthAdjust="spacingAndGlyphs" >22.29%</text>
<text x="64.5" y="1165.6" font-size="14" fill="#666" stroke="#666" stroke-width="0.18" text-anchor="end" >120.000</text>
<text x="1985" y="1165.6" font-size="14" fill="#666" stroke="#666" stroke-width="0.18" textLength="45.2" lengthAdjust="spacingAndGlyphs" >46.75%</text>
<text x="64.5" y="1109.7" font-size="14" fill="#666" stroke="#666" stroke-width="0.18" text-anchor="end" >140.000</text>
<text x="1985" y="1109.7" font-size="14" fill="#666" stroke="#666" stroke-width="0.18" textLength="45.2" lengthAdjust="spacingAndGlyphs" >71.21%</text>
<text x="64.5" y="1053.8" font-size="14" fill="#666" stroke="#666" stroke-width="0.18" text-anchor="end" >160.000</text>
<text x="1985" y="1053.8" font-size="14" fill="#666" stroke="#666" stroke-width="0.18" textLength="45.2" lengthAdjust="spacingAndGlyphs" >95.67%</text>
<text x="64.5" y="997.9" font-size="14" fill="#666" stroke="#666" stroke-width="0.18" text-anchor="end" >180.000</text>
<text x="1985" y="997.9" font-size="14" fill="#666" stroke="#666" stroke-width="0.18" textLength="52.6" lengthAdjust="spacingAndGlyphs" >120.13%</text>
<text x="64.5" y="942.0" font-size="14" fill="#666" stroke="#666" stroke-width="0.18" text-anchor="end" >200.000</text>
<text x="1985" y="942.0" font-size="14" fill="#666" stroke="#666" stroke-width="0.18" textLength="52.6" lengthAdjust="spacingAndGlyphs" >144.59%</text>
<text x="64.5" y="886.1" font-size="14" fill="#666" stroke="#666" stroke-width="0.18" text-anchor="end" >220.000</text>
<text x="1985" y="886.1" font-size="14" fill="#666" stroke="#666" stroke-width="0.18" textLength="52.6" lengthAdjust="spacingAndGlyphs" >169.05%</text>
<text x="64.5" y="830.2" font-size="14" fill="#666" stroke="#666" stroke-width="0.18" text-anchor="end" >240.000</text>
<text x="1985" y="830.2" font-size="14" fill="#666" stroke="#666" stroke-width="0.18" textLength="52.6" lengthAdjust="spacingAndGlyphs" >193.51%</text>
<text x="64.5" y="774.3" font-size="14" fill="#666" stroke="#666" stroke-width="0.18" text-anchor="end" >260.000</text>
<text x="1985" y="774.3" font-size="14" fill="#666" stroke="#666" stroke-width="0.18" textLength="52.6" lengthAdjust="spacingAndGlyphs" >217.96%</text>
<text x="64.5" y="718.4" font-size="14" fill="#666" stroke="#666" stroke-width="0.18" text-anchor="end" >280.000</text>
<text x="1985" y="718.4" font-size="14" fill="#666" stroke="#666" stroke-width="0.18" textLength="52.6" lengthAdjust="spacingAndGlyphs" >242.42%</text>
<text x="64.5" y="662.5" font-size="14" fill="#666" stroke="#666" stroke-width="0.18" text-anchor="end" >300.000</text>
<text x="1985" y="662.5" font-size="14" fill="#666" stroke="#666" stroke-width="0.18" textLength="52.6" lengthAdjust="spacingAndGlyphs" >266.88%</text>
<text x="64.5" y="606.6" font-size="14" fill="#666" stroke="#666" stroke-width="0.18" text-anchor="end" >320.000</text>
<text x="1985" y="606.6" font-size="14" fill="#666" stroke="#666" stroke-width="0.18" textLength="52.6" lengthAdjust="spacingAndGlyphs" >291.34%</text>
<text x="64.5" y="550.7" font-size="14" fill="#666" stroke="#666" stroke-width="0.18" text-anchor="end" >340.000</text>
<text x="1985" y="550.7" font-size="14" fill="#666" stroke="#666" stroke-width="0.18" textLength="52.6" lengthAdjust="spacingAndGlyphs" >315.80%</text>
<text x="64.5" y="494.8" font-size="14" fill="#666" stroke="#666" stroke-width="0.18" text-anchor="end" >360.000</text>
<text x="1985" y="494.8" font-size="14" fill="#666" stroke="#666" stroke-width="0.18" textLength="52.6" lengthAdjust="spacingAndGlyphs" >340.26%</text>
<text x="64.5" y="438.9" font-size="14" fill="#666" stroke="#666" stroke-width="0.18" text-anchor="end" >380.000</text>
<text x="1985" y="438.9" font-size="14" fill="#666" stroke="#666" stroke-width="0.18" textLength="52.6" lengthAdjust="spacingAndGlyphs" >364.72%</text>
<text x="64.5" y="383.0" font-size="14" fill="#666" stroke="#666" stroke-width="0.18" text-anchor="end" >400.000</text>
<text x="1985" y="383.0" font-size="14" fill="#666" stroke="#666" stroke-width="0.18" textLength="52.6" lengthAdjust="spacingAndGlyphs" >389.18%</text>
<text x="64.5" y="327.1" font-size="14" fill="#666" stroke="#666" stroke-width="0.18" text-anchor="end" >420.000</text>
<text x="1985" y="327.1" font-size="14" fill="#666" stroke="#666" stroke-width="0.18" textLength="52.6" lengthAdjust="spacingAndGlyphs" >413.63%</text>
<text x="64.5" y="271.2" font-size="14" fill="#666" stroke="#666" stroke-width="0.18" text-anchor="end" >440.000</text>
<text x="1985" y="271.2" font-size="14" fill="#666" stroke="#666" stroke-width="0.18" textLength="52.6" lengthAdjust="spacingAndGlyphs" >438.09%</text>
<text x="64.5" y="215.3" font-size="14" fill="#666" stroke="#666" stroke-width="0.18" text-anchor="end" >460.000</text>
<text x="1985" y="215.3" font-size="14" fill="#666" stroke="#666" stroke-width="0.18" textLength="52.6" lengthAdjust="spacingAndGlyphs" >462.55%</text>
<text x="64.5" y="159.4" font-size="14" fill="#666" stroke="#666" stroke-width="0.18" text-anchor="end" >480.000</text>
<text x="1985" y="159.4" font-size="14" fill="#666" stroke="#666" stroke-width="0.18" textLength="52.6" lengthAdjust="spacingAndGlyphs" >487.01%</text>
<rect x="7" y="487" width="64" height="21" fill="#f23954"/>
<text x="64.6" y="502.9" font-size="14" fill="#fff" stroke="#fff" stroke-width="0.18" text-anchor="end" >357.070</text>
<rect x="1979" y="487" width="67" height="21" fill="#f23954"/>
<text x="1985.7" y="502.9" font-size="14" fill="#fff" stroke="#fff" stroke-width="0.18" textLength="53.4" lengthAdjust="spacingAndGlyphs" >336.67%</text>
<circle cx="207.4" cy="1341.6" r="8.9" fill="#fff" stroke="#5a67d6" stroke-width="1.25"/>
<rect x="203.4" y="1350.2" width="8" height="0.8" fill="#4a63d8"/>
<rect x="203.4" y="1341" width="1.6" height="1.8" fill="#4a4c96"/>
<rect x="206.6" y="1341" width="1.6" height="1.8" fill="#4a4c96"/>
<rect x="209.8" y="1341" width="1.6" height="1.8" fill="#4a4c96"/>
<circle cx="391.7" cy="1341.6" r="8.9" fill="#fff" stroke="#5a67d6" stroke-width="1.25"/>
<rect x="387.7" y="1350.2" width="8" height="0.8" fill="#4a63d8"/>
<rect x="387.7" y="1341" width="1.6" height="1.8" fill="#4a4c96"/>
<rect x="390.9" y="1341" width="1.6" height="1.8" fill="#4a4c96"/>
<rect x="394.1" y="1341" width="1.6" height="1.8" fill="#4a4c96"/>
<circle cx="562.9" cy="1341.6" r="8.9" fill="#fff" stroke="#5a67d6" stroke-width="1.25"/>
<rect x="558.9" y="1350.2" width="8" height="0.8" fill="#4a63d8"/>
<rect x="558.9" y="1341" width="1.6" height="1.8" fill="#4a4c96"/>
<rect x="562.1" y="1341" width="1.6" height="1.8" fill="#4a4c96"/>
<rect x="565.3" y="1341" width="1.6" height="1.8" fill="#4a4c96"/>
<circle cx="720.9" cy="1341.6" r="8.9" fill="#fff" stroke="#5a67d6" stroke-width="1.25"/>
<rect x="716.9" y="1350.2" width="8" height="0.8" fill="#4a63d8"/>
<rect x="716.9" y="1341" width="1.6" height="1.8" fill="#4a4c96"/>
<rect x="720.1" y="1341" width="1.6" height="1.8" fill="#4a4c96"/>
<rect x="723.3" y="1341" width="1.6" height="1.8" fill="#4a4c96"/>
<circle cx="892.1" cy="1341.6" r="8.9" fill="#fff" stroke="#5a67d6" stroke-width="1.25"/>
<rect x="888.1" y="1350.2" width="8" height="0.8" fill="#4a63d8"/>
<rect x="888.1" y="1341" width="1.6" height="1.8" fill="#4a4c96"/>
<rect x="891.3" y="1341" width="1.6" height="1.8" fill="#4a4c96"/>
<rect x="894.5" y="1341" width="1.6" height="1.8" fill="#4a4c96"/>
<circle cx="1076.4" cy="1341.6" r="8.9" fill="#fff" stroke="#5a67d6" stroke-width="1.25"/>
<rect x="1072.4" y="1350.2" width="8" height="0.8" fill="#4a63d8"/>
<rect x="1072.4" y="1341" width="1.6" height="1.8" fill="#4a4c96"/>
<rect x="1075.6" y="1341" width="1.6" height="1.8" fill="#4a4c96"/>
<rect x="1078.8" y="1341" width="1.6" height="1.8" fill="#4a4c96"/>
<circle cx="1247.6" cy="1341.6" r="8.9" fill="#fff" stroke="#5a67d6" stroke-width="1.25"/>
<rect x="1243.6" y="1350.2" width="8" height="0.8" fill="#4a63d8"/>
<rect x="1243.6" y="1341" width="1.6" height="1.8" fill="#4a4c96"/>
<rect x="1246.8" y="1341" width="1.6" height="1.8" fill="#4a4c96"/>
<rect x="1250.0" y="1341" width="1.6" height="1.8" fill="#4a4c96"/>
<circle cx="1405.6" cy="1341.6" r="8.9" fill="#fff" stroke="#5a67d6" stroke-width="1.25"/>
<rect x="1401.6" y="1350.2" width="8" height="0.8" fill="#4a63d8"/>
<rect x="1401.6" y="1341" width="1.6" height="1.8" fill="#4a4c96"/>
<rect x="1404.8" y="1341" width="1.6" height="1.8" fill="#4a4c96"/>
<rect x="1408.0" y="1341" width="1.6" height="1.8" fill="#4a4c96"/>
<circle cx="1576.7" cy="1341.6" r="8.9" fill="#fff" stroke="#5a67d6" stroke-width="1.25"/>
<rect x="1572.7" y="1350.2" width="8" height="0.8" fill="#4a63d8"/>
<rect x="1572.7" y="1341" width="1.6" height="1.8" fill="#4a4c96"/>
<rect x="1575.9" y="1341" width="1.6" height="1.8" fill="#4a4c96"/>
<rect x="1579.1" y="1341" width="1.6" height="1.8" fill="#4a4c96"/>
</svg>
</body></html>
